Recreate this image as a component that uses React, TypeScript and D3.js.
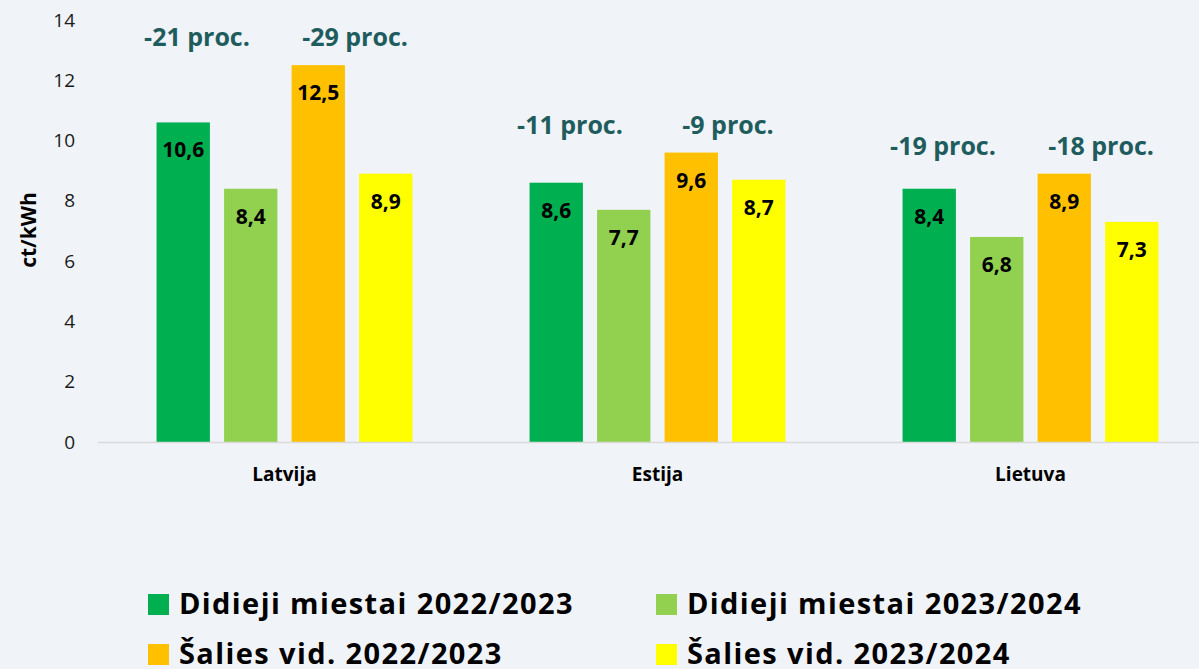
import { useMemo } from 'react';
import * as d3 from 'd3';

const countries = ['Latvija', 'Estija', 'Lietuva'];
const seriesNames = [
  'Didieji miestai 2022/2023',
  'Didieji miestai 2023/2024',
  'Šalies vid. 2022/2023',
  'Šalies vid. 2023/2024',
];
const seriesColors = ['#00B050', '#92D050', '#FFC000', '#FFFF00'];
const cities2223 = [10.6, 8.6, 8.4];
const cities2324 = [8.4, 7.7, 6.8];
const avg2223 = [12.5, 9.6, 8.9];
const avg2324 = [8.9, 8.7, 7.3];
const pctCities = ['-21 proc.', '-11 proc.', '-19 proc.'];
const pctAvg = ['-29 proc.', '-9 proc.', '-18 proc.'];
const yTicks = [0, 2, 4, 6, 8, 10, 12, 14];

const W = 1199;
const H = 669;
const FONT = '"Open Sans", "Noto Sans", sans-serif';

export default function App() {
  const seriesValues = [cities2223, cities2324, avg2223, avg2324];

  const { x0, x1, y } = useMemo(() => {
    const x0 = d3.scaleBand<string>().domain(countries).range([98, 1217]).paddingInner(0.314).paddingOuter(0.157);
    const x1 = d3.scaleBand<string>().domain(seriesNames).range([0, x0.bandwidth()]).paddingInner(0.21);
    const y = d3.scaleLinear().domain([0, 14]).range([442, 19.9]);
    return { x0, x1, y };
  }, []);

  const fmt = (v: number) => v.toFixed(1).replace('.', ',');

  return (
    <svg width={W} height={H} style={{ position: 'fixed', top: 0, left: 0, display: 'block' }} fontFamily={FONT}>
      <rect width={W} height={H} fill="#F0F3F7" />

      {/* y ticks */}
      {yTicks.map((t) => (
        <text key={t} x={75} y={y(t)} dy="0.35em" textAnchor="end" fontSize={19} fill="#1a1a1a">
          {t}
        </text>
      ))}
      <text
        transform={`translate(36,${230}) rotate(-90)`}
        textAnchor="middle"
        fontSize={21}
        fontWeight="bold"
        fill="#000"
      >
        ct/kWh
      </text>

      {/* bars */}
      {countries.map((c, ci) => (
        <g key={c} transform={`translate(${x0(c)},0)`}>
          {seriesNames.map((s, si) => {
            const v = seriesValues[si][ci];
            return (
              <g key={s}>
                <rect x={x1(s)} y={y(v)} width={x1.bandwidth()} height={y(0) - y(v)} fill={seriesColors[si]} />
                <text
                  x={(x1(s) ?? 0) + x1.bandwidth() / 2}
                  y={y(v) + 35}
                  textAnchor="middle"
                  fontSize={21}
                  fontWeight="bold"
                  fill="#000"
                >
                  {fmt(v)}
                </text>
              </g>
            );
          })}
        </g>
      ))}

      {/* axis line */}
      <line x1={98} x2={W} y1={y(0) + 0.5} y2={y(0) + 0.5} stroke="#D9D9D9" strokeWidth={1.5} />

      {/* category labels */}
      {countries.map((c) => (
        <text
          key={c}
          x={(x0(c) ?? 0) + x0.bandwidth() / 2}
          y={481}
          textAnchor="middle"
          fontSize={19}
          fontWeight="bold"
          fill="#000"
        >
          {c}
        </text>
      ))}

      {/* percent annotations */}
      {countries.map((c, ci) => {
        const base = x0(c) ?? 0;
        const top = y(d3.max(seriesValues, (arr) => arr[ci]) ?? 0) - 19;
        const midA = base + ((x1(seriesNames[0]) ?? 0) + (x1(seriesNames[1]) ?? 0) + x1.bandwidth()) / 2;
        const midB = base + ((x1(seriesNames[2]) ?? 0) + (x1(seriesNames[3]) ?? 0) + x1.bandwidth()) / 2;
        return (
          <g key={c} fontSize={25} fontWeight="bold" fill="#1E5C5E" textAnchor="middle">
            <text x={midA - 20} y={top}>{pctCities[ci]}</text>
            <text x={midB + 3} y={top}>{pctAvg[ci]}</text>
          </g>
        );
      })}

      {/* legend */}
      {seriesNames.map((s, i) => {
        const col = i % 2;
        const row = Math.floor(i / 2);
        const lx = col === 0 ? 148 : 656;
        const ly = 594 + row * 50;
        return (
          <g key={s} transform={`translate(${lx},${ly})`}>
            <rect width={21} height={21} fill={seriesColors[i]} />
            <text x={31} y={20} fontSize={29} fontWeight="bold" letterSpacing={1.4} fill="#000">
              {s}
            </text>
          </g>
        );
      })}
    </svg>
  );
}
